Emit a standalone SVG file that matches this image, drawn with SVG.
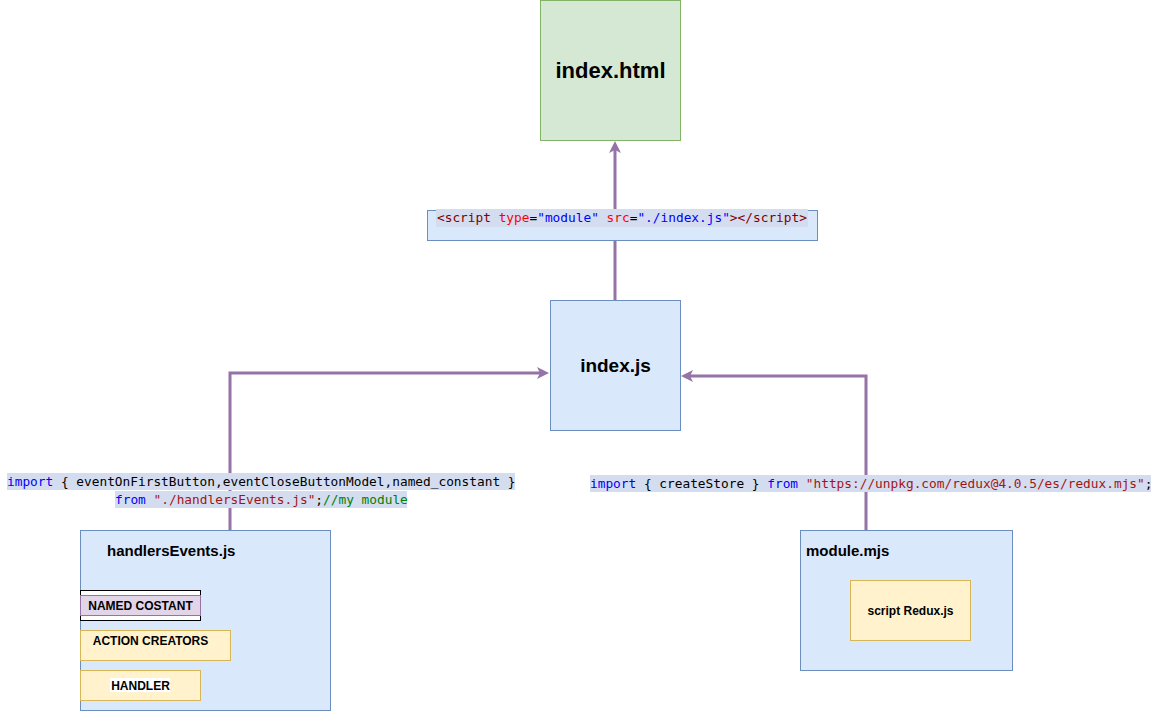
<svg xmlns="http://www.w3.org/2000/svg" width="1151" height="711" viewBox="0 0 1151 711">
  <style>
    .blue { fill: #dae8fc; stroke: #6c8ebf; stroke-width: 1; }
    .green { fill: #d5e8d4; stroke: #82b366; stroke-width: 1; }
    .yellow { fill: #fff2cc; stroke: #d6b656; stroke-width: 1; }
    .purple { fill: #e1d5e7; stroke: #9673a6; stroke-width: 1; }
    .title { font-family: "Liberation Sans", Arial, sans-serif; font-weight: bold; fill: #000; }
    .code { font-family: "DejaVu Sans Mono", "Liberation Mono", monospace; font-size: 12.8px; fill: #000; }
    .hl { fill: #d4ddef; }
    .kw { fill: #0000ff; }
    .str { fill: #a31515; }
    .tag { fill: #800000; }
    .attr { fill: #ff0000; }
    .cm { fill: #008000; }
    .edge { fill: none; stroke: #9673a6; stroke-width: 3; }
  </style>
  <defs>
    <marker id="arrow" markerUnits="userSpaceOnUse" markerWidth="14" markerHeight="14" refX="6" refY="6" orient="auto">
      <path d="M0,0 L12,6 L0,12 L3,6 z" fill="#9673a6"/>
    </marker>
  </defs>

  <rect width="1151" height="711" fill="#ffffff"/>

  <!-- connectors -->
  <g id="connectors">
    <path class="edge" d="M615,300 L615,147" marker-end="url(#arrow)"/>
    <path class="edge" d="M230,530 L230,373 L543,373" marker-end="url(#arrow)"/>
    <path class="edge" d="M866,530 L866,376 L687,376" marker-end="url(#arrow)"/>
  </g>

  <!-- index.html -->
  <g id="index-html">
    <rect class="green" x="540.5" y="0.5" width="140" height="140"/>
    <text class="title" x="610.5" y="78" font-size="22" text-anchor="middle">index.html</text>
  </g>

  <!-- script tag label -->
  <g id="script-label">
    <rect class="blue" x="427.5" y="210.5" width="390" height="30"/>
    <rect class="hl" x="436" y="209" width="372" height="18"/>
    <text class="code" x="437" y="222" xml:space="preserve"><tspan class="tag">&lt;script</tspan> <tspan class="attr">type</tspan>=<tspan class="kw">"module"</tspan> <tspan class="attr">src</tspan>=<tspan class="kw">"./index.js"</tspan><tspan class="tag">&gt;&lt;/script&gt;</tspan></text>
  </g>

  <!-- index.js -->
  <g id="index-js">
    <rect class="blue" x="550.5" y="300.5" width="130" height="130"/>
    <text class="title" x="615.5" y="372" font-size="19" text-anchor="middle">index.js</text>
  </g>

  <!-- import label for handlersEvents.js -->
  <g id="handlers-import">
    <rect class="hl" x="7" y="473" width="508" height="17"/>
    <rect class="hl" x="115" y="491" width="292" height="17"/>
    <text class="code" x="7" y="486" xml:space="preserve"><tspan class="kw">import</tspan> { eventOnFirstButton,eventCloseButtonModel,named_constant }</text>
    <text class="code" x="115" y="504" xml:space="preserve"><tspan class="kw">from</tspan> <tspan class="str">"./handlersEvents.js"</tspan>;<tspan class="cm">//my module</tspan></text>
  </g>

  <!-- import label for redux module -->
  <g id="redux-import">
    <rect class="hl" x="590" y="475" width="561" height="17"/>
    <text class="code" x="590" y="488" xml:space="preserve"><tspan class="kw">import</tspan> { createStore } <tspan class="kw">from</tspan> <tspan class="str">"https://unpkg.com/redux@4.0.5/es/redux.mjs"</tspan>;</text>
  </g>

  <!-- handlersEvents.js -->
  <g id="handlers-events">
    <rect class="blue" x="80.5" y="530.5" width="250" height="180"/>
    <text class="title" x="107" y="556" font-size="15">handlersEvents.js</text>
  </g>

  <g id="named-constant">
    <rect x="80.5" y="590.5" width="120" height="30" fill="#ffffff" stroke="#000000"/>
    <rect class="purple" x="80.5" y="595.5" width="120" height="20"/>
    <text class="title" x="140.5" y="610" font-size="12" text-anchor="middle">NAMED COSTANT</text>
  </g>

  <g id="action-creators">
    <rect class="yellow" x="80.5" y="630.5" width="150" height="30"/>
    <text class="title" x="150.5" y="645" font-size="12" text-anchor="middle">ACTION CREATORS</text>
  </g>

  <g id="handler">
    <rect class="yellow" x="80.5" y="670.5" width="120" height="30"/>
    <rect x="110" y="678" width="60" height="14" fill="#ffffff"/>
    <text class="title" x="140.5" y="690" font-size="12" text-anchor="middle">HANDLER</text>
  </g>

  <!-- module.mjs -->
  <g id="module-mjs">
    <rect class="blue" x="800.5" y="530.5" width="212" height="140"/>
    <text class="title" x="806" y="556" font-size="15">module.mjs</text>
  </g>

  <g id="script-redux">
    <rect class="yellow" x="850.5" y="580.5" width="120" height="60"/>
    <text class="title" x="910.5" y="615" font-size="12" text-anchor="middle">script Redux.js</text>
  </g>
</svg>
